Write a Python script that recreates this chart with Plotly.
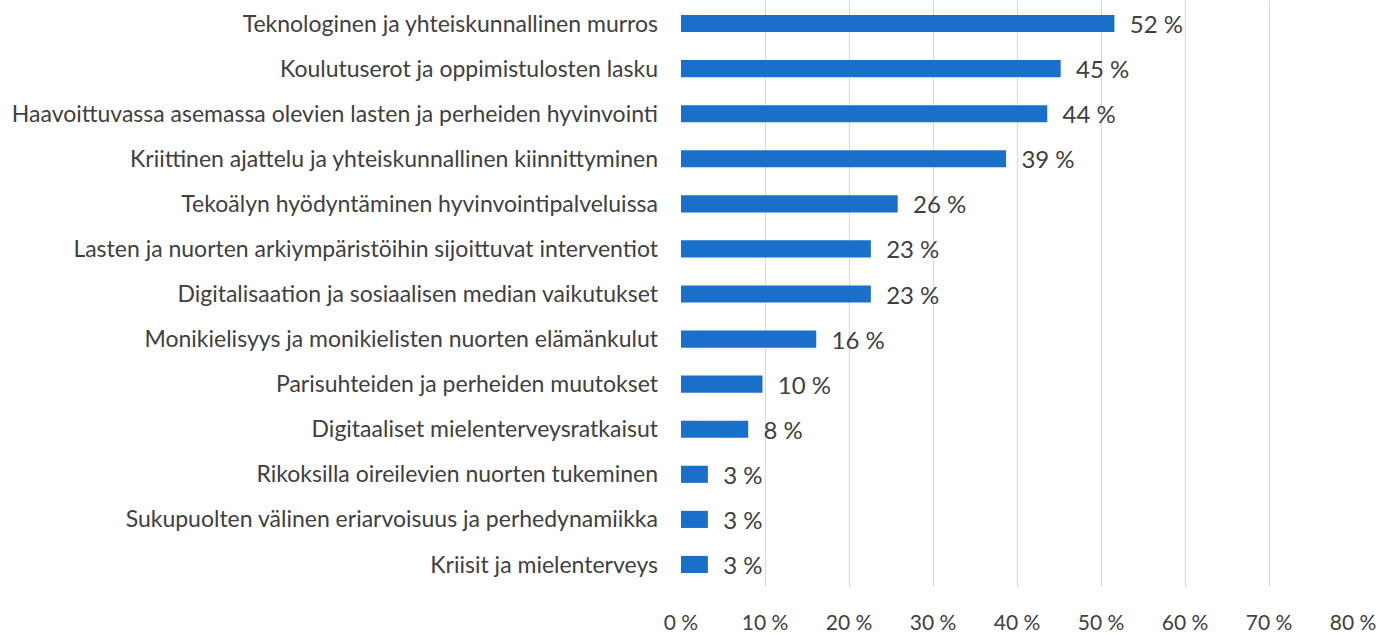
import plotly.graph_objects as go

topics = [
    "Teknologinen ja yhteiskunnallinen murros",
    "Koulutuserot ja oppimistulosten lasku",
    "Haavoittuvassa asemassa olevien lasten ja perheiden hyvinvointi",
    "Kriittinen ajattelu ja yhteiskunnallinen kiinnittyminen",
    "Tekoälyn hyödyntäminen hyvinvointipalveluissa",
    "Lasten ja nuorten arkiympäristöihin sijoittuvat interventiot",
    "Digitalisaation ja sosiaalisen median vaikutukset",
    "Monikielisyys ja monikielisten nuorten elämänkulut",
    "Parisuhteiden ja perheiden muutokset",
    "Digitaaliset mielenterveysratkaisut",
    "Rikoksilla oireilevien nuorten tukeminen",
    "Sukupuolten välinen eriarvoisuus ja perhedynamiikka",
    "Kriisit ja mielenterveys",
]
shares = [51.6, 45.2, 43.6, 38.7, 25.8, 22.6, 22.6, 16.1, 9.7, 8.0, 3.2, 3.2, 3.2]
shown = [52, 45, 44, 39, 26, 23, 23, 16, 10, 8, 3, 3, 3]
x_ticks = [0, 10, 20, 30, 40, 50, 60, 70, 80]

grey = "#404040"

fig = go.Figure(
    go.Bar(
        x=shares,
        y=topics,
        orientation="h",
        marker=dict(color="#1a6fca", line=dict(width=0)),
        width=0.38,
        text=[f"  {s} %" for s in shown],
        textposition="outside",
        constraintext="none",
        cliponaxis=False,
        textfont=dict(size=24, color=grey),
    )
)

fig.update_layout(
    width=1392,
    height=635,
    margin=dict(l=681, r=39, t=1, b=48),
    plot_bgcolor="white",
    paper_bgcolor="white",
    font=dict(family="Lato, Open Sans, sans-serif", color=grey),
    showlegend=False,
)
fig.update_xaxes(
    range=[0, 80],
    tickvals=x_ticks,
    ticktext=[f"{t} %" for t in x_ticks],
    showgrid=True,
    gridcolor="#d9d9d9",
    gridwidth=1,
    zeroline=False,
    showline=False,
    automargin=False,
    tickfont=dict(size=21, color=grey),
    ticklabelstandoff=21,
)
fig.update_yaxes(
    autorange="reversed",
    showgrid=False,
    showline=False,
    automargin=False,
    tickfont=dict(size=23, color=grey),
    ticklabelstandoff=22,
)

# drop the default page margin so the figure fills the window
fig.write_html(
    "out.html",
    config={"displayModeBar": False},
    post_script="document.body.style.margin='0';",
)
